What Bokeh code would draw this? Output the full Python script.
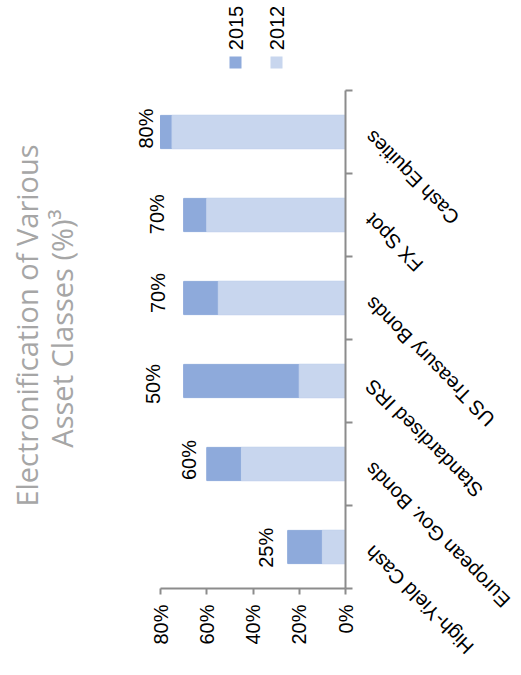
import math
from bokeh.plotting import figure
from bokeh.models import (ColumnDataSource, Range1d, LinearAxis, FixedTicker,
                          PrintfTickFormatter, CustomJSTickFormatter, LabelSet,
                          Label, BoxAnnotation)
from bokeh.core.properties import value
from bokeh.embed import file_html
from bokeh.resources import INLINE

# ---- data ----
categories = ["High-Yield Cash", "European Gov. Bonds", "Standardised IRS",
              "US Treasury Bonds", "FX Spot", "Cash Equities"]
values_2012 = [10, 45, 20, 55, 60, 75]
values_2015 = [25, 60, 70, 70, 70, 80]
labels_2015 = ["25%", "60%", "50%", "70%", "70%", "80%"]
value_ticks = [0, 20, 40, 60, 80]
series_names = ["2015", "2012"]
title_lines = ["Electronification of Various", "Asset Classes (%)\u00b3"]

# ---- style ----
DARK = "#8EAADB"
LIGHT = "#C8D6EE"
AXIS = "#8C8C8C"
TITLE_GRAY = "#A6A6A6"
FONT = "Liberation Sans"
# per-label nudges (screen px) of the hand-placed value labels
label_dx = [-10.6, -6.7, -20, -14.4, -16, -4]
label_dy = [-0.8, 4, -3, 5, 0.8, 3.5]

# ---- layout geometry (canvas pixels) ----
W, H = 521, 675
PLOT_L, PLOT_R, PLOT_T, PLOT_B = 160, 345, 90, 588
VMAX = 80
NCAT = len(categories)
px_x = (PLOT_R - PLOT_L) / VMAX
px_y = (PLOT_B - PLOT_T) / NCAT
x_start = VMAX + PLOT_L / px_x
x_end = -(W - PLOT_R) / px_x
y_end = NCAT + PLOT_T / px_y
y_start = -(H - PLOT_B) / px_y

pos = [i + 0.5 for i in range(NCAT)]
src = ColumnDataSource(dict(cat=categories, pos=pos, v12=values_2012,
                            v15=values_2015, lab=labels_2015,
                            dx=label_dx, dy=label_dy))

p = figure(width=W, height=H, output_backend="svg", toolbar_location=None,
           x_range=Range1d(x_start, x_end), y_range=Range1d(y_start, y_end),
           x_axis_location=None, y_axis_location=None,
           min_border=0)
p.outline_line_color = None
p.grid.visible = False

xaxis = LinearAxis(ticker=FixedTicker(ticks=value_ticks), bounds=(0, VMAX),
                   fixed_location=0,
                   formatter=PrintfTickFormatter(format="%d%%"),
                   major_label_orientation=math.pi / 2, major_label_standoff=10,
                   major_tick_in=0, major_tick_out=6,
                   minor_tick_in=0, minor_tick_out=0,
                   axis_line_color=AXIS, axis_line_width=2,
                   major_tick_line_color=AXIS, major_tick_line_width=2,
                   major_label_text_font=FONT, major_label_text_font_size="20px",
                   major_label_text_color="black")
p.add_layout(xaxis, "below")

yaxis = LinearAxis(ticker=FixedTicker(ticks=list(range(NCAT + 1))), bounds=(0, NCAT),
                   fixed_location=0,
                   formatter=CustomJSTickFormatter(code="return ''"),
                   major_tick_in=0, major_tick_out=7,
                   minor_tick_in=0, minor_tick_out=0,
                   axis_line_color=AXIS, axis_line_width=2,
                   major_tick_line_color=AXIS, major_tick_line_width=2)
p.add_layout(yaxis, "right")

p.hbar(y="pos", left=0, right="v15", height=0.4, color=DARK, source=src)
p.hbar(y="pos", left=0, right="v12", height=0.4, color=LIGHT, source=src)

p.add_layout(LabelSet(x="v15", y="pos", text="lab", source=src,
                      angle=math.pi / 2, text_align="center", text_baseline="bottom",
                      x_offset="dx", y_offset="dy", text_font=value(FONT),
                      text_font_size="20px", text_color="black"))

p.add_layout(LabelSet(x=0, y="pos", text="cat", source=src,
                      angle=3 * math.pi / 4, text_align="right", text_baseline="middle",
                      x_offset=23, y_offset=-2, text_font=value(FONT),
                      text_font_size="20px", text_color="black"))

# title
p.add_layout(Label(x=26, y=325, x_units="canvas", y_units="canvas", text=title_lines[0],
                   angle=math.pi / 2, text_align="center", text_baseline="alphabetic",
                   text_font="Open Sans", text_font_size="29px", text_color=TITLE_GRAY))
p.add_layout(Label(x=61, y=328, x_units="canvas", y_units="canvas", text=title_lines[1],
                   angle=math.pi / 2, text_align="center", text_baseline="alphabetic",
                   text_font="Open Sans", text_font_size="29px", text_color=TITLE_GRAY))

# legend
for name, col, cx in zip(series_names, [DARK, LIGHT], [235, 276]):
    p.add_layout(BoxAnnotation(left=cx - 6, right=cx + 6, top=56, bottom=68,
                               left_units="canvas", right_units="canvas",
                               top_units="canvas", bottom_units="canvas",
                               fill_color=col, fill_alpha=1, line_color=None))
    p.add_layout(Label(x=cx, y=27.5, x_units="canvas", y_units="canvas", text=name,
                       angle=math.pi / 2, text_align="center", text_baseline="middle",
                       text_font=FONT, text_font_size="20px", text_color="black"))

open("out.html", "w").write(file_html(p, INLINE))
